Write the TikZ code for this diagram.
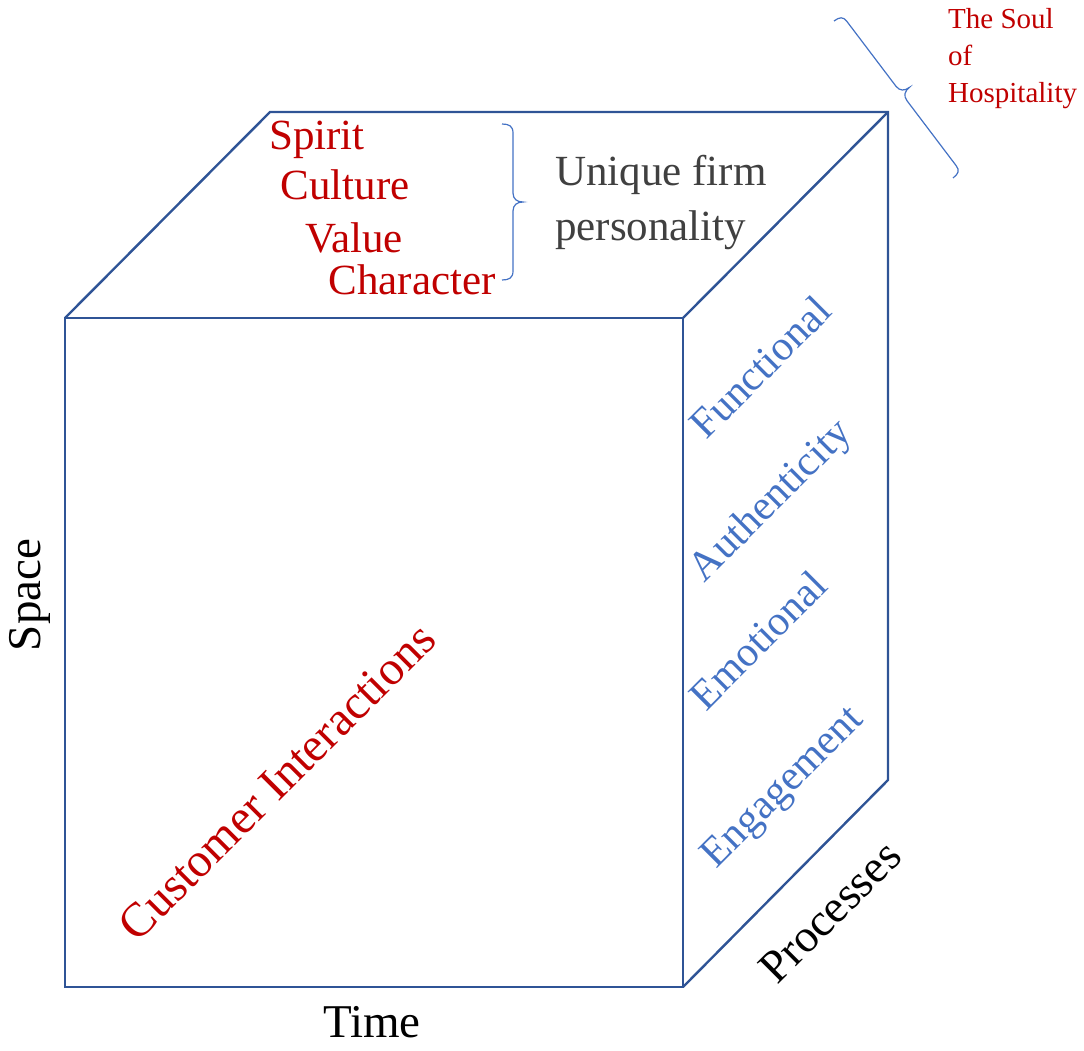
\documentclass[tikz,border=0pt]{standalone}
\usepackage{fontspec}
\setmainfont{Liberation Serif}
\definecolor{edgeblue}{HTML}{2F5496}
\definecolor{wordred}{HTML}{C00000}
\definecolor{wordblue}{HTML}{4472C4}
\definecolor{wordgray}{HTML}{404040}
\tikzset{
  edge/.style={draw=edgeblue, line width=2.4pt, line join=miter},
  redword/.style={text=wordred, font=\fontsize{43}{48}\selectfont, inner sep=0pt},
  blueword/.style={text=wordblue, font=\fontsize{42}{46}\selectfont, inner sep=0pt, rotate=45},
  axisword/.style={text=black, font=\fontsize{47}{50}\selectfont, inner sep=0pt},
  grayword/.style={text=wordgray, font=\fontsize{43}{46}\selectfont, inner sep=0pt, anchor=west},
  bracket/.style={draw=wordblue, line width=1.2pt},
}
\begin{document}
\begin{tikzpicture}[x=1pt, y=-1pt]
\useasboundingbox (0,0) rectangle (1084,1050);
% cube corners
\coordinate (ftl) at (65,318);
\coordinate (ftr) at (683,318);
\coordinate (fbl) at (65,987);
\coordinate (fbr) at (683,987);
\coordinate (btl) at (270,112);
\coordinate (btr) at (888,112);
\coordinate (bbr) at (888,780);
% cube edges
\path[edge] (ftl) rectangle (fbr);
\path[edge] (ftl) -- (btl) -- (btr) -- (bbr) -- (fbr);
\path[edge] (ftr) -- (btr);
% top face words
\node[redword] (spirit) at (317,140) {Spirit};
\node[redword] (culture) at (345,185) {Culture};
\node[redword] (value) at (354,238) {Value};
\node[redword] (character) at (412,280) {Character};
% brace grouping the four words
\coordinate (brTop) at (502,124);
\coordinate (brBot) at (502,280);
\path[bracket] (brTop) .. controls (509,124) and (513,126) .. (513,133)
  -- (513,193) .. controls (513,199) and (517,202) .. (523,202)
  .. controls (517,202) and (513,205) .. (513,211)
  -- (513,271) .. controls (513,278) and (509,280) .. (brBot);
\node[grayword] (unique) at (555,175) {Unique firm};
\node[grayword] (personality) at (555,230) {personality};
% slanted brace beside the top right corner
\coordinate (soulTop) at (834,21);
\coordinate (soulBot) at (953,178);
\path[bracket] (soulTop) .. controls (839.6,16.8) and (843.2,16.6) .. (846.8,21.3)
  -- (896.0,86.3) .. controls (899.7,91.1) and (904.7,91.0) .. (909.4,87.4)
  .. controls (904.7,91.0) and (903.3,95.9) .. (906.9,100.6)
  -- (956.1,165.6) .. controls (959.8,170.4) and (958.6,173.8) .. (soulBot);
\node[text=wordred, font=\fontsize{29}{37}\selectfont, align=left, anchor=north west, inner sep=0pt] (soul) at (948,8) {The Soul\\of\\Hospitality};
% right face words
\node[blueword] (functional) at (760,367) {Functional};
\node[blueword] (authenticity) at (772,502) {Authenticity};
\node[blueword] (emotional) at (758,640) {Emotional};
\node[blueword] (engagement) at (784,789) {Engagement};
% front face
\node[redword, rotate=45, font=\fontsize{48}{52}\selectfont] (customer) at (277,782) {Customer Interactions};
% axis labels
\node[axisword, rotate=90] (space) at (30,595) {Space};
\node[axisword] (time) at (372,1022) {Time};
\node[axisword, rotate=45, font=\fontsize{46}{50}\selectfont] (processes) at (830,912) {Processes};
\end{tikzpicture}
\end{document}
